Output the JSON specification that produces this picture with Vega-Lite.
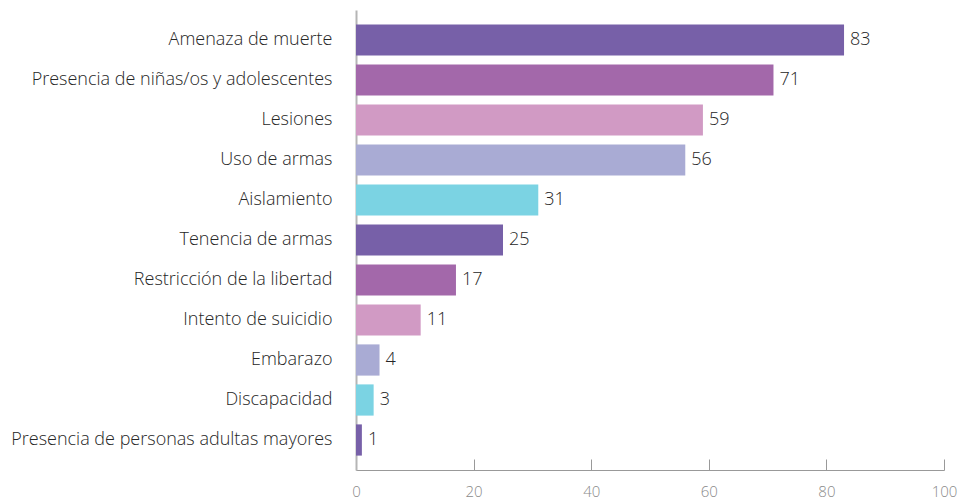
{
  "$schema": "https://vega.github.io/schema/vega-lite/v6.json",
  "autosize": "none",
  "padding": {"left": 356, "top": 10, "right": 16, "bottom": 30},
  "width": 588,
  "height": 460,
  "background": "white",
  "config": {
    "view": {"stroke": null},
    "font": "Open Sans",
    "axis": {"grid": false}
  },
  "data": {
    "values": [
      {"categoria": "Amenaza de muerte", "valor": 83},
      {"categoria": "Presencia de niñas/os y adolescentes", "valor": 71},
      {"categoria": "Lesiones", "valor": 59},
      {"categoria": "Uso de armas", "valor": 56},
      {"categoria": "Aislamiento", "valor": 31},
      {"categoria": "Tenencia de armas", "valor": 25},
      {"categoria": "Restricción de la libertad", "valor": 17},
      {"categoria": "Intento de suicidio", "valor": 11},
      {"categoria": "Embarazo", "valor": 4},
      {"categoria": "Discapacidad", "valor": 3},
      {"categoria": "Presencia de personas adultas mayores", "valor": 1}
    ]
  },
  "encoding": {
    "y": {
      "field": "categoria",
      "type": "nominal",
      "sort": null,
      "title": null,
      "scale": {"paddingInner": 0.22, "paddingOuter": 0.36},
      "axis": {
        "ticks": false,
        "labelFontSize": 18,
        "labelFontWeight": 300,
        "labelColor": "#262626",
        "labelPadding": 24,
        "labelLimit": 400,
        "domainColor": "#b5b5b5",
        "domainWidth": 2
      }
    },
    "x": {
      "field": "valor",
      "type": "quantitative",
      "title": null,
      "scale": {"domain": [0, 100]},
      "axis": {
        "values": [0, 20, 40, 60, 80, 100],
        "tickSize": -11,
        "tickColor": "#999999",
        "domainColor": "#999999",
        "labelColor": "#8a8a8a",
        "labelFontSize": 15,
        "labelFontWeight": 300,
        "labelPadding": 25,
        "labelFlush": false
      }
    }
  },
  "layer": [
    {
      "mark": {"type": "bar"},
      "encoding": {
        "color": {
          "field": "categoria",
          "type": "nominal",
          "legend": null,
          "scale": {
            "domain": ["Amenaza de muerte", "Presencia de niñas/os y adolescentes", "Lesiones", "Uso de armas", "Aislamiento", "Tenencia de armas", "Restricción de la libertad", "Intento de suicidio", "Embarazo", "Discapacidad", "Presencia de personas adultas mayores"],
            "range": ["#7760a8", "#a368aa", "#d19ac4", "#a9abd4", "#7bd3e3", "#7760a8", "#a368aa", "#d19ac4", "#a9abd4", "#7bd3e3", "#7760a8"]
          }
        }
      }
    },
    {
      "mark": {"type": "text", "align": "left", "dx": 6, "fontSize": 18, "fontWeight": 300, "color": "#262626"},
      "encoding": {"text": {"field": "valor", "type": "quantitative"}}
    }
  ]
}
